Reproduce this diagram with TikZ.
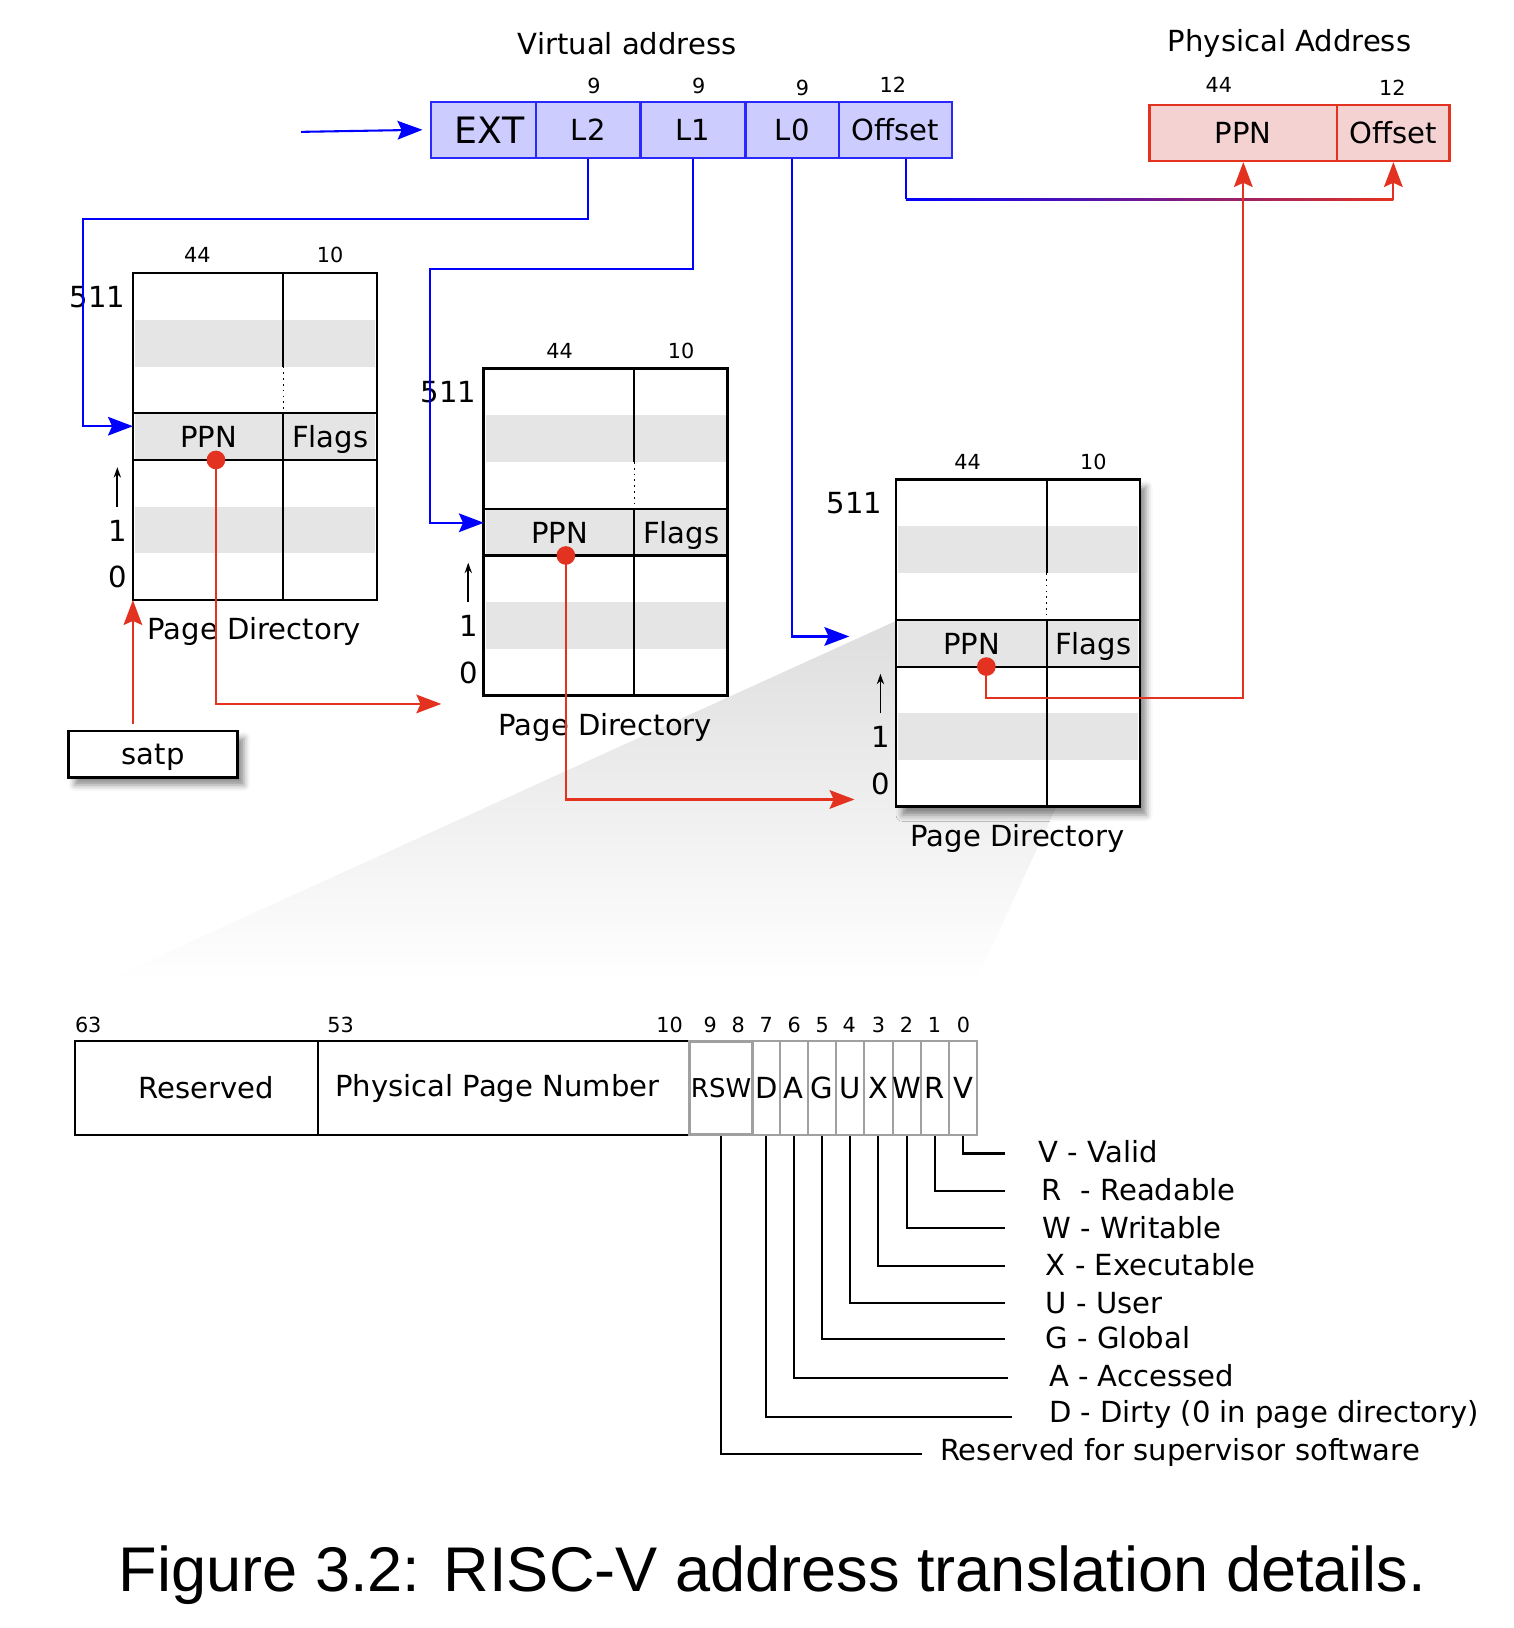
\documentclass[tikz,border=0pt]{standalone}
\usepackage{fontspec}
\setmainfont{DejaVu Sans}
\newfontfamily\capfont{Liberation Sans}
\usetikzlibrary{arrows.meta,calc,shadows.blur}
\newcommand\szmain{\fontsize{14}{17}\selectfont}
\newcommand\szsmall{\fontsize{10}{12}\selectfont}
\newcommand\szext{\fontsize{17.5}{20}\selectfont}
\newcommand\szcap{\fontsize{30.4}{36}\selectfont}
\definecolor{vblue}{RGB}{0,0,255}
\definecolor{vborder}{RGB}{40,40,255}
\definecolor{vfill}{RGB}{204,204,255}
\definecolor{pred}{RGB}{228,50,32}
\definecolor{pfill}{RGB}{245,210,210}
\definecolor{stripe}{RGB}{229,229,229}
\definecolor{cellgray}{RGB}{160,160,160}
\tikzset{
  txt/.style={font=\szmain, inner sep=0pt},
  num/.style={font=\szsmall, inner sep=0pt},
  bline/.style={draw=vblue, line width=1pt},
  rline/.style={draw=pred, line width=1pt},
  tipb/.style={-{Stealth[length=12pt,width=9pt,inset=2pt]}},
  vafield/.style={draw=vborder, fill=vfill, line width=1.1pt, minimum height=27pt, inner sep=0pt, font=\szmain},
  pafield/.style={draw=pred, fill=pfill, line width=1.1pt, minimum height=27pt, inner sep=0pt, font=\szmain},
  bitcell/.style={draw=cellgray, line width=1pt, minimum height=45pt, inner sep=0pt, font=\szmain},
  bitbig/.style={draw=black, line width=1pt, minimum height=45pt, inner sep=0pt, font=\szmain},
  leader/.style={draw=black, line width=1pt},
  flagtxt/.style={font=\szmain, inner sep=0pt, anchor=base west},
  softshadow/.style={blur shadow={shadow xshift=3pt, shadow yshift=-3.5pt, shadow blur radius=3pt, shadow opacity=45}},
  pics/pdtab/.style n args={3}{code={
    \fill[white] (0,0) rectangle (235,315);
    \fill[stripe] (2,45) rectangle (233,90);
    \fill[stripe] (2,135) rectangle (233,180);
    \fill[stripe] (2,225) rectangle (233,270);
    \draw[line width=1pt] (145,0) -- (145,90) (145,135) -- (145,315);
    \draw[line width=0.8pt, dotted] (145,90) -- (145,135);
    \draw[line width=1pt] (0,135) -- (235,135) (0,180) -- (235,180);
    \draw[line width=1.3pt] (0,0) rectangle (235,315);
    \node[txt, anchor=base] (-ppn) at (73,168) {PPN};
    \node[txt, anchor=base] (-flags) at (190,168) {Flags};
    \coordinate (-row) at (0,157.5);
    \coordinate (-sw) at (0,315);
    \node[num] (-w44) at (#2,-17) {44};
    \node[num] (-w10) at (190,-17) {10};
    \node[txt, anchor=east] (-top) at (#3,23) {511};
    \node[txt] (-one) at (-15,248) {1};
    \node[txt] (-zero) at (-15,293) {0};
    \draw[line width=0.8pt, -{Stealth[length=5pt,width=3.5pt]}] (-15,225) -- (-15,187);
    \node[txt, anchor=base] (-title) at (117,353) {Page Directory};
    \node[circle, fill=pred, inner sep=0pt, minimum size=9pt] (-dot) at (#1,180) {};
  }}
}
\begin{document}
\begin{tikzpicture}[x=0.5pt,y=-0.5pt]
\useasboundingbox (0,0) rectangle (1458,1568);

% funnel
\shade[top color=black!13, bottom color=white] (863,598) -- (1100,598) -- (940,945) -- (100,945) -- cycle;

% page directories
\path[softshadow, fill=white] (863,462) rectangle (1098,778);
\pic (pd1) at (128,263) {pdtab={80}{62}{-7}};
\pic (pd2) at (466,355) {pdtab={79}{73}{-7}};
\pic (pd3) at (863,462) {pdtab={87}{69}{-13}};

% satp
\node[draw, line width=1.3pt, fill=white, minimum width=81.5pt, minimum height=22.5pt, inner sep=0pt, text depth=0pt, font=\szmain, softshadow] (satp) at (147.5,726.5) {satp};

% virtual address
\node[txt] (vatitle) at (604,42) {Virtual address};
\node[vafield, minimum width=50.5pt, font=\szext] (vext) at (465.5,125) {\hspace*{6pt}EXT};
\node[vafield, minimum width=50.5pt] (vl2) at (566.5,125) {L2};
\node[vafield, minimum width=50.5pt] (vl1) at (667.5,125) {L1};
\node[vafield, minimum width=45pt] (vl0) at (763,125) {L0};
\node[vafield, minimum width=54.5pt] (voff) at (862.5,125) {Offset};
\node[num] (n9a) at (572,83) {9};
\node[num] (n9b) at (673,83) {9};
\node[num] (n9c) at (773,85) {9};
\node[num] (n12a) at (860,82) {12};

% physical address
\node[txt] (patitle) at (1242,42) {Physical Address};
\node[pafield, minimum width=90.5pt] (pppn) at (1197.5,128) {PPN};
\node[pafield, minimum width=54pt] (poff) at (1342,128) {Offset};
\node[num] (n44p) at (1174,82) {44};
\node[num] (n12p) at (1341,85) {12};

% blue connectors
\coordinate (vin) at (290,127);
\draw[bline, tipb] (vin) -- ([xshift=-3.5pt]vext.west);
\coordinate (b1) at (80,211);
\draw[bline, tipb] (vl2.south) |- (b1) |- ([yshift=5pt]pd1-row);
\coordinate (b2) at (414,259);
\draw[bline, tipb] (vl1.south) |- (b2) |- ([yshift=4.5pt]pd2-row);
\coordinate (b3) at (818,613);
\draw[bline, tipb] (vl0.south) |- (b3);

% offset connector (blue to red)
\coordinate (oA) at ($(voff.south)+(10,39)$);
\coordinate (oB) at (oA -| poff.south);
\draw[bline] ([xshift=5pt]voff.south) -- (oA);
\shade[left color=vblue, right color=pred] ([yshift=0.5pt]oA) rectangle ([yshift=-0.5pt]oB);
\draw[rline, tipb] (oB) -- (poff.south);

% red connectors
\coordinate (sa) at (satp.north -| pd1-sw);
\draw[rline, tipb] ([yshift=2.5pt]sa) -- (pd1-sw);
\coordinate (r1) at (425,678);
\draw[rline, tipb] (pd1-dot.center) |- (r1);
\coordinate (r2) at (823,770);
\draw[rline, tipb] (pd2-dot.center) |- (r2);
\draw[rline, tipb] (pd3-dot.center) -- ++(0,30) -| (pppn.south);

% PTE bit field
\node[bitbig, minimum width=117pt] (res) at (189,1048) {\hspace*{10pt}Reserved};
\node[bitbig, minimum width=179pt] (ppnf) at (485,1048) {Physical Page Number\hspace*{6pt}};
\node[bitcell, line width=1.4pt, minimum width=30.5pt, font=\fontsize{12.5}{15}\selectfont] (bRSW) at (694.5,1048) {RSW};
\node[bitcell, minimum width=13pt] (bD) at (738,1048) {D};
\node[bitcell, minimum width=13.5pt] (bA) at (764.5,1048) {A};
\node[bitcell, minimum width=13.5pt] (bG) at (791.5,1048) {G};
\node[bitcell, minimum width=13.5pt] (bU) at (818.5,1048) {U};
\node[bitcell, minimum width=14pt] (bX) at (846,1048) {X};
\node[bitcell, minimum width=13.5pt] (bW) at (873.5,1048) {W};
\node[bitcell, minimum width=13.5pt] (bR) at (900.5,1048) {R};
\node[bitcell, minimum width=13.5pt] (bV) at (927.5,1048) {V};

\node[num] (k63) at (85,987) {63};
\node[num] (k53) at (328,987) {53};
\node[num] (k10) at (645,987) {10};
\node[num] (k9) at (684,987) {9};
\node[num] (k8) at (711,987) {8};
\node[num] (k7) at (738,987) {7};
\node[num] (k6) at (765,987) {6};
\node[num] (k5) at (792,987) {5};
\node[num] (k4) at (818,987) {4};
\node[num] (k3) at (846,987) {3};
\node[num] (k2) at (873,987) {2};
\node[num] (k1) at (900,987) {1};
\node[num] (k0) at (928,987) {0};

% legend
\node[flagtxt] (lV) at (1000,1120) {V - Valid};
\node[flagtxt] (lR) at (1003,1156) {R~ - Readable};
\node[flagtxt] (lW) at (1004,1193) {W - Writable};
\node[flagtxt] (lX) at (1007,1228) {X - Executable};
\node[flagtxt] (lU) at (1007,1265) {U - User};
\node[flagtxt] (lG) at (1007,1299) {G - Global};
\node[flagtxt] (lA) at (1010,1335) {A - Accessed};
\node[flagtxt] (lD) at (1010,1370) {D - Dirty (0 in page directory)};
\node[flagtxt] (lRSW) at (905,1407) {Reserved for supervisor software};

\coordinate (eV) at (968,1111);
\coordinate (eR) at (968,1147);
\coordinate (eW) at (968,1183);
\coordinate (eX) at (968,1219);
\coordinate (eU) at (968,1255);
\coordinate (eG) at (968,1290);
\coordinate (eA) at (971,1327);
\coordinate (eD) at (975,1365);
\coordinate (eRSW) at (888,1400);
\draw[leader] (bV.south) |- (eV);
\draw[leader] (bR.south) |- (eR);
\draw[leader] (bW.south) |- (eW);
\draw[leader] (bX.south) |- (eX);
\draw[leader] (bU.south) |- (eU);
\draw[leader] (bG.south) |- (eG);
\draw[leader] (bA.south) |- (eA);
\draw[leader] (bD.south) |- (eD);
\draw[leader] (bRSW.south) |- (eRSW);

% caption
\node[font=\capfont\szcap, inner sep=0pt] (caption) at (744,1517) {Figure 3.2: RISC-V address translation details.};
\end{tikzpicture}
\end{document}
